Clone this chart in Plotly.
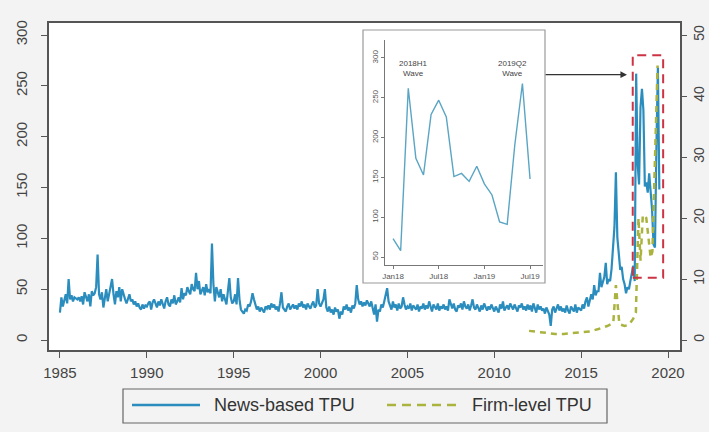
import plotly.graph_objects as go

# ---------------- data ----------------
years_start = 1985
# News-based TPU, monthly, 1985-2017 (one row per year)
news_tpu_by_year = [
    [27, 42, 33, 40, 45, 36, 60, 40, 44, 38, 42, 41],   # 1985
    [40, 42, 38, 43, 35, 47, 42, 38, 45, 33, 48, 44],   # 1986
    [46, 52, 84, 45, 40, 47, 32, 44, 50, 38, 46, 52],   # 1987
    [60, 45, 35, 48, 42, 52, 38, 50, 44, 40, 36, 42],   # 1988
    [45, 38, 40, 35, 38, 33, 36, 32, 30, 35, 31, 34],   # 1989
    [33, 36, 38, 30, 37, 40, 35, 32, 38, 34, 40, 36],   # 1990
    [31, 38, 42, 35, 33, 40, 36, 44, 35, 38, 42, 37],   # 1991
    [51, 40, 46, 44, 52, 48, 45, 55, 50, 48, 66, 50],   # 1992
    [58, 45, 48, 52, 44, 55, 47, 50, 46, 95, 55, 38],   # 1993
    [52, 48, 42, 50, 38, 45, 40, 35, 48, 61, 42, 36],   # 1994
    [38, 45, 35, 61, 40, 30, 28, 26, 30, 29, 35, 33],   # 1995
    [38, 46, 40, 35, 30, 33, 28, 32, 30, 27, 33, 31],   # 1996
    [34, 30, 36, 32, 35, 30, 33, 28, 36, 47, 32, 30],   # 1997
    [28, 33, 36, 30, 32, 35, 31, 34, 30, 36, 33, 38],   # 1998
    [32, 35, 30, 36, 33, 31, 35, 38, 32, 34, 50, 36],   # 1999
    [33, 36, 40, 50, 32, 28, 33, 27, 30, 25, 32, 28],   # 2000
    [30, 21, 28, 25, 33, 30, 35, 29, 32, 27, 34, 31],   # 2001
    [36, 54, 40, 35, 38, 33, 37, 34, 39, 36, 33, 38],   # 2002
    [30, 25, 35, 18, 30, 28, 35, 32, 38, 44, 51, 38],   # 2003
    [34, 30, 38, 32, 35, 29, 36, 31, 33, 42, 35, 30],   # 2004
    [33, 31, 36, 29, 34, 32, 30, 35, 28, 33, 31, 36],   # 2005
    [30, 34, 31, 38, 33, 28, 35, 32, 30, 36, 29, 33],   # 2006
    [31, 35, 30, 33, 29, 40, 34, 31, 36, 30, 28, 34],   # 2007
    [32, 36, 30, 38, 33, 31, 35, 29, 34, 40, 32, 30],   # 2008
    [35, 31, 28, 34, 30, 36, 32, 29, 33, 30, 35, 31],   # 2009
    [28, 33, 30, 27, 35, 31, 38, 29, 32, 34, 30, 36],   # 2010
    [33, 30, 35, 31, 28, 34, 32, 36, 30, 33, 29, 35],   # 2011
    [30, 34, 28, 36, 32, 27, 35, 30, 33, 29, 31, 26],   # 2012
    [32, 28, 25, 14, 30, 33, 27, 31, 35, 29, 33, 28],   # 2013
    [31, 27, 34, 29, 26, 33, 30, 28, 35, 27, 32, 30],   # 2014
    [29, 35, 31, 38, 42, 33, 38, 45, 40, 54, 44, 48],   # 2015
    [48, 66, 52, 58, 62, 76, 55, 60, 58, 70, 90, 111],  # 2016
    [165, 101, 85, 69, 72, 60, 55, 46, 52, 50, 58, 66], # 2017
]
# News-based TPU, monthly, Jan 2018 - Jul 2019 (also shown in the inset)
news_tpu_2018_2019 = [73, 58, 262, 174, 153, 229, 247, 226, 151, 155,
                      145, 164, 142, 128, 94, 91, 191, 268, 148]

# Firm-level TPU (right axis), decimal-year dates
firm_dates = [2012.0, 2012.5, 2013.0, 2013.5, 2014.0, 2014.5, 2015.0, 2015.5,
              2016.0, 2016.5, 2016.85, 2017.0, 2017.2, 2017.5, 2017.75, 2018.0,
              2018.15, 2018.3, 2018.42, 2018.55, 2018.75, 2019.0, 2019.1, 2019.4]
firm_tpu = [1.5, 1.3, 1.1, 1.0, 1.0, 1.1, 1.2, 1.4,
            1.8, 2.3, 2.8, 9.0, 2.6, 2.3, 2.5, 3.5,
            4.5, 20.0, 13.0, 20.5, 20.0, 13.5, 14.5, 45.0]

x_ticks = [1985, 1990, 1995, 2000, 2005, 2010, 2015, 2020]
left_ticks = [0, 50, 100, 150, 200, 250, 300]
right_ticks = [0, 10, 20, 30, 40, 50]
inset_x_ticks = [2018.0, 2018.5, 2019.0, 2019.5]
inset_x_labels = ["Jan18", "Jul18", "Jan19", "Jul19"]
inset_y_ticks = [50, 100, 150, 200, 250, 300]
wave_labels = ["2018H1<br>Wave", "2019Q2<br>Wave"]
wave_x = [2018.22, 2019.31]
legend_labels = ["News-based TPU", "Firm-level TPU"]

# ---------------- build ----------------
news_values = [v for row in news_tpu_by_year for v in row] + news_tpu_2018_2019
news_dates = [years_start + i / 12 for i in range(len(news_values))]
inset_dates = [2018 + i / 12 for i in range(len(news_tpu_2018_2019))]

W, H = 709, 432
ML, MR, MT, MB = 49, 29, 23, 82
PW, PH = W - ML - MR, H - MT - MB


def px(xp):
    return (xp - ML) / PW


def py(yp):
    return (H - MB - yp) / PH


BLUE = "#2b8dbd"
OLIVE = "#a9b33d"
AX = "#555555"
FONT = "Liberation Sans, Arial, sans-serif"

fig = go.Figure()
fig.add_trace(go.Scatter(x=news_dates, y=news_values, mode="lines",
                         line=dict(color=BLUE, width=2.2), name=legend_labels[0],
                         showlegend=False))
fig.add_trace(go.Scatter(x=firm_dates, y=firm_tpu, mode="lines", yaxis="y2",
                         line=dict(color=OLIVE, width=2.5, dash="6px,5px"),
                         name=legend_labels[1], showlegend=False))
fig.add_trace(go.Scatter(x=inset_dates, y=news_tpu_2018_2019, mode="lines",
                         xaxis="x3", yaxis="y3",
                         line=dict(color="#5aa5c4", width=1.4), showlegend=False))

tickfont = dict(family=FONT, size=15, color="#444")
fig.update_layout(
    width=W, height=H,
    margin=dict(l=ML, r=MR, t=MT, b=MB, autoexpand=False),
    paper_bgcolor="#f3f3f3", plot_bgcolor="white",
    font=dict(family=FONT),
    xaxis=dict(range=[1984.37, 2020.69], tickvals=x_ticks, ticks="outside",
               ticklen=6, tickcolor=AX, tickwidth=1.2, showline=True, mirror=True,
               linecolor=AX, linewidth=1.5, showgrid=False, zeroline=False,
               tickfont=tickfont, automargin=False, ticklabelstandoff=2),
    yaxis=dict(range=[-9.8, 311.8], tickvals=left_ticks, ticks="outside",
               ticklen=6, tickcolor=AX, tickwidth=1.2, tickangle=-90,
               showline=True, linecolor=AX, linewidth=1.5, showgrid=False,
               zeroline=False, tickfont=tickfont, automargin=False,
               ticklabelstandoff=8),
    yaxis2=dict(range=[-9.8 / 6, 311.8 / 6], tickvals=right_ticks, overlaying="y",
                side="right", ticks="outside", ticklen=5, tickcolor=AX,
                tickwidth=1.2, tickangle=-90, showline=True, linecolor=AX,
                linewidth=1.5, showgrid=False, zeroline=False,
                tickfont=dict(family=FONT, size=14, color="#444"),
                automargin=False, ticklabelstandoff=0),
    xaxis3=dict(domain=[px(385), px(543)], anchor="y3",
                range=[2017.912, 2019.642], tickvals=inset_x_ticks,
                ticktext=inset_x_labels, ticks="outside", ticklen=3,
                tickcolor="#777", showline=True, linecolor="#777", linewidth=1,
                showgrid=False, zeroline=False, automargin=False,
                tickfont=dict(family=FONT, size=8, color="#555")),
    yaxis3=dict(domain=[py(265), py(40)], anchor="x3", range=[40, 322.6],
                tickvals=inset_y_ticks, ticks="outside", ticklen=3,
                tickcolor="#777", tickangle=-90, showline=True, linecolor="#777",
                linewidth=1, showgrid=False, zeroline=False, automargin=False,
                tickfont=dict(family=FONT, size=8, color="#555")),
)

shapes = [
    # inset frame
    dict(type="rect", xref="paper", yref="paper", x0=px(363), x1=px(545),
         y0=py(283), y1=py(30), fillcolor="white", line=dict(color="#9a9a9a", width=1.2),
         layer="below"),
    # highlight box around 2018-2019
    dict(type="rect", xref="x", yref="y2", x0=2017.97, x1=2019.72, y0=10.2, y1=46.7,
         line=dict(color="#cc3344", width=2, dash="9px,6px"), fillcolor="rgba(0,0,0,0)"),
    # legend frame
    dict(type="rect", xref="paper", yref="paper", x0=px(123), x1=px(607),
         y0=py(423), y1=py(389), line=dict(color="#666", width=1.2),
         fillcolor="rgba(0,0,0,0)"),
    dict(type="line", xref="paper", yref="paper", x0=px(132), x1=px(200),
         y0=py(405), y1=py(405), line=dict(color=BLUE, width=2.5)),
    dict(type="line", xref="paper", yref="paper", x0=px(387), x1=px(458),
         y0=py(405), y1=py(405), line=dict(color=OLIVE, width=2.5, dash="9px,6px")),
]

annotations = [
    dict(xref="paper", yref="paper", x=px(212), y=py(405), text=legend_labels[0],
         showarrow=False, xanchor="left", yanchor="middle",
         font=dict(family=FONT, size=18, color="#333")),
    dict(xref="paper", yref="paper", x=px(470), y=py(405), text=legend_labels[1],
         showarrow=False, xanchor="left", yanchor="middle",
         font=dict(family=FONT, size=18, color="#333")),
    # arrow from inset to the highlighted 2018 spike
    dict(xref="x", yref="y", axref="x", ayref="y",
         x=2017.64, y=news_tpu_2018_2019[2] - 1,
         ax=2012.87, ay=news_tpu_2018_2019[2] - 1,
         text="", showarrow=True, arrowhead=2, arrowsize=1.2, arrowwidth=1.1,
         arrowcolor="#333"),
]
for lbl, xv in zip(wave_labels, wave_x):
    annotations.append(dict(xref="x3", yref="y3", x=xv, y=287, text=lbl,
                            showarrow=False, xanchor="center", yanchor="middle",
                            font=dict(family=FONT, size=8, color="#444")))

fig.update_layout(shapes=shapes, annotations=annotations)
fig.write_html("out.html",
               config={"displayModeBar": False},
               post_script="document.body.style.margin='0px';"
                           "document.body.style.background='#f3f3f3';")
